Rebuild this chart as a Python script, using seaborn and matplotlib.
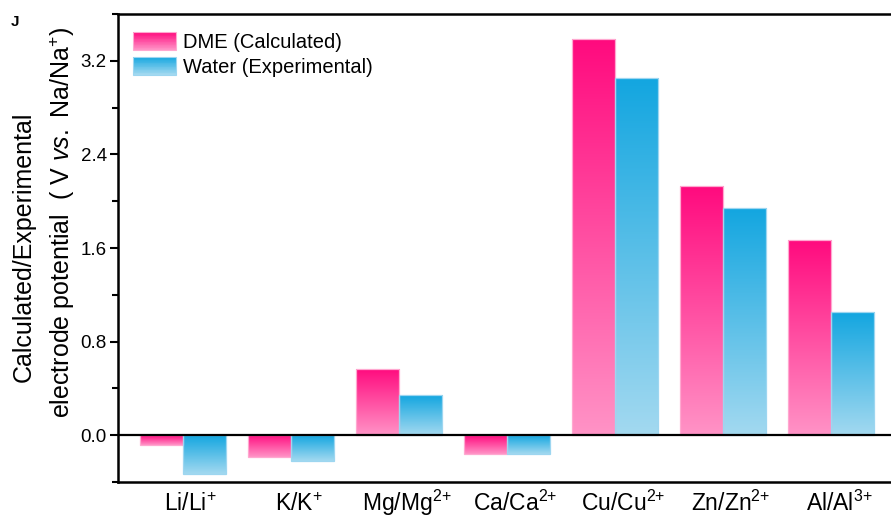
import numpy as np
import pandas as pd
import matplotlib
matplotlib.use("Agg")
import matplotlib.pyplot as plt
import matplotlib.transforms as mtransforms
import seaborn as sns
from matplotlib.colors import LinearSegmentedColormap
from matplotlib.legend_handler import HandlerBase
from matplotlib.patches import Rectangle
from matplotlib.ticker import MultipleLocator, FormatStrFormatter

# Data (V vs. Na/Na+)
couples = ["Li/Li+", "K/K+", "Mg/Mg2+", "Ca/Ca2+", "Cu/Cu2+", "Zn/Zn2+", "Al/Al3+"]
couple_labels = ["Li/Li$^{+}$", "K/K$^{+}$", "Mg/Mg$^{2{+}}$", "Ca/Ca$^{2{+}}$",
                 "Cu/Cu$^{2{+}}$", "Zn/Zn$^{2{+}}$", "Al/Al$^{3{+}}$"]
dme_calc = [-0.08, -0.19, 0.57, -0.16, 3.39, 2.13, 1.67]
water_exp = [-0.33, -0.22, 0.34, -0.16, 3.05, 1.94, 1.05]
series = ["DME (Calculated)", "Water (Experimental)"]

# gradients: light at the bottom of a bar, strong at the top
pink_cmap = LinearSegmentedColormap.from_list("pink_grad", ["#FF93C6", "#FF0A7E"])
blue_cmap = LinearSegmentedColormap.from_list("blue_grad", ["#A3D9F0", "#13A6E0"])
edge_colors = ["#FFA8D0", "#9DD6F0"]

df = pd.DataFrame({
    "couple": couples * 2,
    "value": dme_calc + water_exp,
    "series": [series[0]] * len(couples) + [series[1]] * len(couples),
})

sns.set_style("ticks")
plt.rcParams["font.family"] = ["Liberation Sans", "DejaVu Sans"]
plt.rcParams["mathtext.fontset"] = "custom"
plt.rcParams["mathtext.rm"] = "Liberation Sans"
plt.rcParams["mathtext.it"] = "Liberation Sans:italic"
plt.rcParams["mathtext.bf"] = "Liberation Sans:bold"
for key in ["text.color", "axes.labelcolor", "xtick.color", "ytick.color", "axes.edgecolor"]:
    plt.rcParams[key] = "black"


class GradientHandler(HandlerBase):
    def __init__(self, cmap, edge):
        super().__init__()
        self.cmap = cmap
        self.edge = edge

    def create_artists(self, legend, orig_handle, xdescent, ydescent,
                       width, height, fontsize, trans):
        artists = []
        n = 24
        for i in range(n):
            r = Rectangle((-xdescent, -ydescent + height * i / n), width, height / n + 0.05,
                          facecolor=self.cmap(i / (n - 1)), edgecolor="none", transform=trans)
            artists.append(r)
        artists.append(Rectangle((-xdescent, -ydescent), width, height, facecolor="none",
                                 edgecolor=self.edge, lw=0.8, transform=trans))
        return artists


fig = plt.figure(figsize=(8.91, 5.19), dpi=100)
ax = fig.add_axes([0.1324, 0.0713, 0.8732, 0.9017])

sns.barplot(data=df, x="couple", y="value", hue="series", order=couples,
            hue_order=series, palette=["#FF0A7E", "#13A6E0"], width=0.8, gap=0,
            legend=False, ax=ax)

grad = np.linspace(0, 1, 256).reshape(-1, 1)
for container, cmap, ec in zip(ax.containers, [pink_cmap, blue_cmap], edge_colors):
    for bar in container.patches:
        x0, y0 = bar.get_x(), bar.get_y()
        w, h = bar.get_width(), bar.get_height()
        ylo, yhi = min(y0, y0 + h), max(y0, y0 + h)
        im = ax.imshow(grad, cmap=cmap, origin="lower", aspect="auto",
                       extent=[x0, x0 + w, ylo, yhi], zorder=1, interpolation="bilinear")
        im.set_clip_path(bar)
        bar.set_facecolor("none")
        bar.set_edgecolor(ec)
        bar.set_linewidth(0.9)
        bar.set_zorder(2)

ax.axhline(0, color="black", lw=1.6, zorder=3)

ax.set_xlim(-0.6, 6.6)
ax.set_ylim(-0.4, 3.6)
ax.yaxis.set_major_locator(MultipleLocator(0.8))
ax.yaxis.set_minor_locator(MultipleLocator(0.4))
ax.yaxis.set_major_formatter(FormatStrFormatter("%.1f"))
ax.set_xticks(range(len(couples)))
ax.set_xticklabels(couple_labels, fontsize=16.5)
ax.tick_params(axis="x", length=0, pad=21)
ax.tick_params(axis="y", which="major", length=6, width=1.5, labelsize=13.5, direction="out", pad=2)
ax.tick_params(axis="y", which="minor", length=4, width=1.5, direction="out")
# labels sit a little right of the bar pairs in the original
shift = mtransforms.ScaledTranslation(8 / 100, 0, fig.dpi_scale_trans)
for lbl in ax.get_xticklabels():
    lbl.set_va("baseline")
    lbl.set_transform(lbl.get_transform() + shift)
ax.set_xlabel("")
ax.set_ylabel("")

for side in ["left", "bottom", "top", "right"]:
    ax.spines[side].set_visible(True)
    ax.spines[side].set_linewidth(1.8)

# two-line y label, the lines are centred separately as in the original
fig.text(0.027, 0.524, "Calculated/Experimental", rotation=90, fontsize=18,
         ha="center", va="center")
fig.text(0.070, 0.572, r"electrode potential  ( V $\mathit{vs.}$ Na/Na$^{+}$)",
         rotation=90, fontsize=18, ha="center", va="center")

h_dme = Rectangle((0, 0), 1, 1)
h_water = Rectangle((0, 0), 1, 1)
ax.legend([h_dme, h_water], series,
          handler_map={h_dme: GradientHandler(pink_cmap, edge_colors[0]),
                       h_water: GradientHandler(blue_cmap, edge_colors[1])},
          loc="upper left", bbox_to_anchor=(0.019, 0.962), frameon=False,
          fontsize=14.5, handlelength=2.15, handleheight=1.0, handletextpad=0.35,
          labelspacing=0.25, borderpad=0, borderaxespad=0)

fig.text(0.012, 0.950, "J", fontsize=11, fontweight="bold")

fig.savefig("out.png", dpi=100)
